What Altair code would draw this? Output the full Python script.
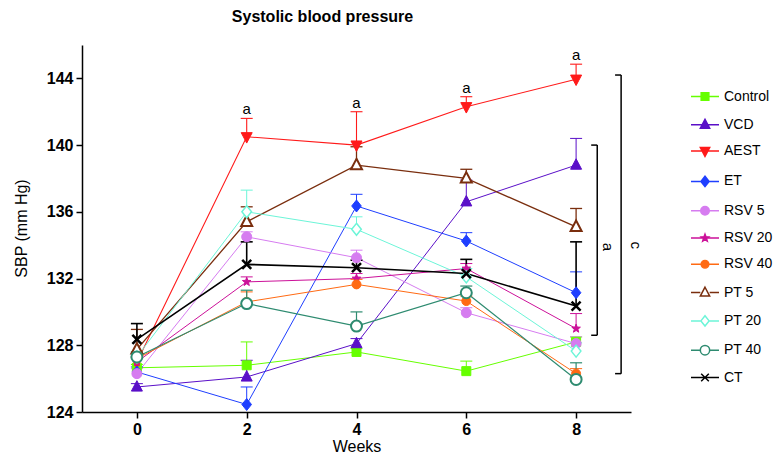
import math
import altair as alt
import pandas as pd

weeks = [0, 2, 4, 6, 8]
series = ["Control", "VCD", "AEST", "ET", "RSV 5", "RSV 20", "RSV 40",
          "PT 5", "PT 20", "PT 40", "CT"]

control = [126.65, 126.8, 127.6, 126.45, 128.2]
vcd = [125.5, 126.1, 128.1, 136.6, 138.8]
aest = [127.0, 140.5, 140.0, 142.3, 143.95]
et = [126.4, 124.45, 136.35, 134.25, 131.15]
rsv5 = [126.3, 134.5, 133.25, 129.95, 128.1]
rsv20 = [127.0, 131.8, 132.0, 132.6, 129.0]
rsv40 = [127.2, 130.6, 131.65, 130.65, 126.3]
pt5 = [127.75, 135.4, 138.8, 138.0, 135.1]
pt20 = [127.3, 136.0, 134.95, 132.1, 127.65]
pt40 = [127.3, 130.5, 129.15, 131.15, 125.95]
ct = [128.35, 132.85, 132.65, 132.3, 130.35]

sem_control = [0.2, 1.4, 0.2, 0.6, 0.3]
sem_vcd = [0.2, 1.0, 0.3, 1.3, 1.6]
sem_aest = [0.3, 1.1, 2.0, 0.6, 0.9]
sem_et = [0.3, 1.05, 0.7, 0.5, 1.25]
sem_rsv5 = [0.3, 0.3, 0.45, 0.3, 0.4]
sem_rsv20 = [0.3, 0.3, 0.3, 0.3, 0.9]
sem_rsv40 = [0.3, 0.6, 0.3, 0.3, 0.3]
sem_pt5 = [1.2, 0.9, 1.1, 0.55, 1.1]
sem_pt20 = [0.3, 1.3, 0.75, 0.5, 0.5]
sem_pt40 = [0.3, 0.8, 0.85, 0.4, 1.0]
sem_ct = [0.95, 1.35, 0.45, 0.85, 3.85]

means = [control, vcd, aest, et, rsv5, rsv20, rsv40, pt5, pt20, pt40, ct]
sems = [sem_control, sem_vcd, sem_aest, sem_et, sem_rsv5, sem_rsv20, sem_rsv40,
        sem_pt5, sem_pt20, sem_pt40, sem_ct]

colors = ["#66FF00", "#5A0FC8", "#FF1A1A", "#1F3FFF", "#D67CF0", "#CC1199",
          "#FF6A13", "#7A2E0E", "#6CF5D8", "#2E8B70", "#000000"]
marker_kind = ["square", "tri_up", "tri_down", "diamond", "circle", "star",
               "circle", "tri_up", "diamond", "circle", "x"]
marker_half_px = [4.5, 5.5, 5.5, 6.0, 5.0, 4.5, 4.5, 5.5, 6.0, 5.5, 4.5]
marker_filled = [True, True, True, True, True, True, True, False, False, False, False]
marker_stroke = [1.0, 1.0, 1.0, 1.0, 1.0, 1.0, 1.0, 2.0, 1.5, 2.0, 2.5]
line_width = [1.0, 1.0, 1.1, 1.0, 1.0, 1.0, 1.0, 1.3, 1.0, 1.2, 1.6]

# significance annotations
sig_weeks = [2, 4, 6, 8]
sig_text = ["a", "a", "a", "a"]
bracket_label = ["c", "a"]
bracket_top = [144.2, 140.0]
bracket_bot = [126.3, 128.6]
bracket_x = [8.82, 8.385]
bracket_xin = [8.71, 8.275]
bracket_label_x = [9.09, 8.575]
bracket_label_y = [134.0, 133.9]

FONT = "Liberation Sans"


def fmt(v):
    return f"{v:.3f}"


def shape_path(kind, h):
    if kind == "square":
        return f"M{fmt(-h)},{fmt(-h)}H{fmt(h)}V{fmt(h)}H{fmt(-h)}Z"
    if kind == "tri_up":
        return f"M0,{fmt(-1.15*h)}L{fmt(h)},{fmt(0.75*h)}L{fmt(-h)},{fmt(0.75*h)}Z"
    if kind == "tri_down":
        return f"M0,{fmt(1.15*h)}L{fmt(h)},{fmt(-0.75*h)}L{fmt(-h)},{fmt(-0.75*h)}Z"
    if kind == "diamond":
        return f"M0,{fmt(-h)}L{fmt(0.8*h)},0L0,{fmt(h)}L{fmt(-0.8*h)},0Z"
    if kind == "circle":
        return (f"M{fmt(h)},0A{fmt(h)},{fmt(h)},0,1,1,{fmt(-h)},0"
                f"A{fmt(h)},{fmt(h)},0,1,1,{fmt(h)},0Z")
    if kind == "star":
        pts = []
        for k in range(10):
            r = h if k % 2 == 0 else 0.42 * h
            a = math.radians(-90 + 36 * k)
            pts.append(f"{fmt(r*math.cos(a))},{fmt(r*math.sin(a))}")
        return "M" + "L".join(pts) + "Z"
    if kind == "x":
        return f"M{fmt(-h)},{fmt(-h)}L{fmt(h)},{fmt(h)}M{fmt(-h)},{fmt(h)}L{fmt(h)},{fmt(-h)}"
    return "circle"


def edge_extent(kind, h):
    if kind == "diamond":
        return 0.8 * h
    return h


UNIT = 5.0  # px per path unit at size 100
LEG_HALF = 2.8

point_paths = [shape_path(k, hp / UNIT) for k, hp in zip(marker_kind, marker_half_px)]
legend_paths = []
for k, hp, filled in zip(marker_kind, marker_half_px, marker_filled):
    h = 0.85 * hp / UNIT
    base = shape_path(k, h)
    if filled or k == "x":
        seg = f"M{-LEG_HALF},0L{LEG_HALF},0"
    else:
        e = edge_extent(k, h)
        seg = f"M{-LEG_HALF},0L{fmt(-e)},0M{fmt(e)},0L{LEG_HALF},0"
    legend_paths.append(seg + base)

fills = [c if f else "white" for c, f in zip(colors, marker_filled)]

rows = []
for s, m, e in zip(series, means, sems):
    for w, v, se in zip(weeks, m, e):
        rows.append({"series": s, "week": w, "value": v, "upper": v + se})
df = pd.DataFrame(rows)

X = alt.X("week:Q", scale=alt.Scale(domain=[-1, 9], nice=False, zero=False),
          axis=alt.Axis(values=[0, 2, 4, 6, 8], title="Weeks", titleFontSize=16,
                        titleFontWeight="normal", titleBaseline="middle",
                        titleY=34, labelPadding=3, format="d"))
Y = alt.Y("value:Q", scale=alt.Scale(domain=[124, 146], nice=False, zero=False),
          axis=alt.Axis(values=[124, 128, 132, 136, 140, 144], title="SBP (mm Hg)",
                        titleFontSize=16, titleFontWeight="normal", titleAngle=-90,
                        titleX=-61, titleY=183, titleBaseline="middle",
                        titleAlign="center", labelPadding=3, format="d"))

base = alt.Chart(df)
layers = []

for i, s in enumerate(series):
    layers.append(base.transform_filter(alt.datum.series == s).mark_line(
        color=colors[i], strokeWidth=line_width[i]).encode(x=X, y=Y))

for i, s in enumerate(series):
    sub = base.transform_filter(alt.datum.series == s)
    layers.append(sub.mark_rule(color=colors[i], strokeWidth=line_width[i]).encode(
        x=X, y=Y, y2="upper:Q"))
    layers.append(sub.mark_point(shape="M-1,0L1,0", size=144, filled=False, opacity=1,
                                 stroke=colors[i], strokeWidth=line_width[i]).encode(
        x=X, y=alt.Y("upper:Q")))

for i, s in enumerate(series):
    sub = base.transform_filter(alt.datum.series == s)
    layers.append(sub.mark_point(shape=point_paths[i], size=100, opacity=1,
                                 filled=False, stroke=colors[i], fill=fills[i],
                                 strokeWidth=marker_stroke[i]).encode(x=X, y=Y))

# legend-only layer (no marks drawn, scales carry the legend)
legend_layer = base.transform_filter("datum.week < -100").mark_point(
    size=100, opacity=1).encode(
    x=X, y=Y,
    stroke=alt.Stroke("series:N", scale=alt.Scale(domain=series, range=colors),
                      legend=alt.Legend(title=None)),
    fill=alt.Fill("series:N", scale=alt.Scale(domain=series, range=fills),
                  legend=alt.Legend(title=None)),
    shape=alt.Shape("series:N", scale=alt.Scale(domain=series, range=legend_paths),
                    legend=alt.Legend(title=None)),
)
layers.append(legend_layer)

aest_upper = [v + e for v, e in zip(aest[1:], sem_aest[1:])]
sig_df = pd.DataFrame({"week": sig_weeks, "value": aest_upper, "text": sig_text})
layers.append(alt.Chart(sig_df).mark_text(fontSize=15, font=FONT, baseline="alphabetic",
                                          dy=-4, color="black").encode(
    x=X, y=Y, text="text:N"))

br_df = pd.DataFrame({"label": bracket_label, "top": bracket_top, "bot": bracket_bot,
                      "bx": bracket_x, "bxin": bracket_xin,
                      "lx": bracket_label_x, "ly": bracket_label_y})
br = alt.Chart(br_df)
layers.append(br.mark_rule(color="black", strokeWidth=1.5).encode(
    x=alt.X("bx:Q", scale=alt.Scale(domain=[-1, 9], nice=False)),
    y=alt.Y("top:Q"), y2="bot:Q"))
layers.append(br.mark_rule(color="black", strokeWidth=1.5).encode(
    x=alt.X("bxin:Q"), x2="bx:Q", y=alt.Y("top:Q")))
layers.append(br.mark_rule(color="black", strokeWidth=1.5).encode(
    x=alt.X("bxin:Q"), x2="bx:Q", y=alt.Y("bot:Q")))
layers.append(br.mark_text(fontSize=15, font=FONT, angle=90, align="center",
                           baseline="middle", color="black").encode(
    x=alt.X("lx:Q"), y=alt.Y("ly:Q"), text="label:N"))

chart = alt.layer(*layers).properties(
    width=549, height=367,
    autosize=alt.AutoSizeParams(type="none"),
    padding={"left": 74, "top": 37, "right": 143, "bottom": 44},
    title=alt.TitleParams("Systolic blood pressure", fontSize=16, fontWeight="bold",
                          font=FONT, anchor="middle", dx=-34, offset=20, color="black"),
).configure_view(stroke=None).configure_axis(
    grid=False, domainColor="black", domainWidth=1.5, tickColor="black", tickWidth=1.5,
    tickSize=6, labelFont=FONT, labelFontSize=16, labelFontWeight="bold",
    labelColor="black", titleFont=FONT, titleColor="black",
).configure_legend(
    orient="none", legendX=616, legendY=44.5, padding=0, rowPadding=12.3,
    labelFont=FONT, labelFontSize=14, labelColor="black", labelOffset=12,
    symbolSize=100, symbolStrokeWidth=1.5, labelLimit=200,
)

chart.save("out.html", embed_options={"renderer": "svg", "actions": False})
